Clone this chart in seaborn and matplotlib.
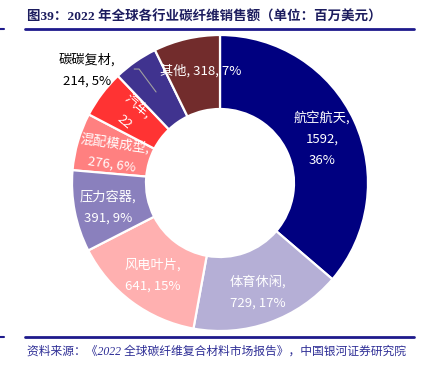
import seaborn as sns
import matplotlib.pyplot as plt
from matplotlib.lines import Line2D

# data (millions USD, 2022)
categories = ['航空航天', '体育休闲', '风电叶片', '压力容器', '混配模成型', '汽车', '碳碳复材', '其他']
values = [1592, 729, 641, 391, 276, 229, 214, 318]
colors = ['#000080', '#B5AFD6', '#FFB0B0', '#8A80BD', '#FF8080', '#FF3333', '#40338F', '#722C2C']

sns.set_theme(style='white')
plt.rcParams['font.family'] = ['Noto Sans CJK SC', 'DejaVu Sans']

W, H = 425, 371
fig = plt.figure(figsize=(W / 100, H / 100), dpi=100)

cx, cy, R = 220, 183, 148
ax = fig.add_axes([(cx - R) / W, (H - cy - R) / H, 2 * R / W, 2 * R / H])
wedges, _ = ax.pie(values, colors=colors, startangle=90, counterclock=False, radius=1,
                   wedgeprops=dict(width=0.5, edgecolor='white', linewidth=1.6))
ax.set_xlim(-1, 1)
ax.set_ylim(-1, 1)
ax.axis('off')

total = sum(values)
pcts = [round(v * 100 / total) for v in values]

# label text per slice (the 汽车 label is cut short in the original)
texts = [
    f'{categories[0]},\n{values[0]},\n{pcts[0]}%',
    f'{categories[1]},\n{values[1]}, {pcts[1]}%',
    f'{categories[2]},\n{values[2]}, {pcts[2]}%',
    f'{categories[3]},\n{values[3]}, {pcts[3]}%',
    f'{categories[4]},\n{values[4]}, {pcts[4]}%',
    f'{categories[5]},\n{str(values[5])[:2]}',
    f'{categories[6]},\n{values[6]}, {pcts[6]}%',
    f'{categories[7]}, {values[7]}, {pcts[7]}%',
]
label_pos = [(0.69, 0.30), (0.257, -0.736), (-0.453, -0.628), (-0.757, -0.162),
             (-0.72, 0.196), (-0.60, 0.47), (-0.90, 0.76), (-0.13, 0.755)]
rotations = [0, 0, 0, 0, -8, -40, 0, 0]
text_colors = ['white'] * 6 + ['black', 'white']

wedges[3].set_zorder(2.5)
for i, (t, (x, y)) in enumerate(zip(texts, label_pos)):
    ax.text(x, y, t, ha='center', va='center', fontsize=9.5, color=text_colors[i],
            rotation=rotations[i], rotation_mode='anchor', linespacing=1.8,
            zorder=2 if i == 4 else 3, clip_on=False)

# leader line for 碳碳复材
ax.plot([-0.58, -0.547, -0.432], [0.77, 0.77, 0.615], color='#A0A0A0', lw=0.8, zorder=4)

navy = '#1E1A8C'
fig.text(27 / W, 1 - 17 / H, '图39：2022 年全球各行业碳纤维销售额（单位：百万美元）',
         ha='left', va='center', fontsize=9.7, fontweight='bold', color='#1C1C5E',
         family=['Liberation Serif', 'Noto Sans CJK SC'])
fig.add_artist(Line2D([25 / W, 414 / W], [1 - 29 / H] * 2, color=navy, lw=2))
fig.add_artist(Line2D([0, 4 / W], [1 - 29 / H] * 2, color=navy, lw=1.5))
fig.add_artist(Line2D([25 / W, 414 / W], [1 - 337 / H] * 2, color=navy, lw=2))
fig.add_artist(Line2D([0, 4 / W], [1 - 337 / H] * 2, color=navy, lw=1.5))
fig.text(27 / W, 1 - 352 / H, '资料来源：《2022 全球碳纤维复合材料市场报告》，中国银河证券研究院',
         ha='left', va='center', fontsize=8.5, style='italic', color='#2E2E96',
         family=['Liberation Serif', 'Noto Sans CJK SC'])

fig.savefig('out.png', dpi=100)
